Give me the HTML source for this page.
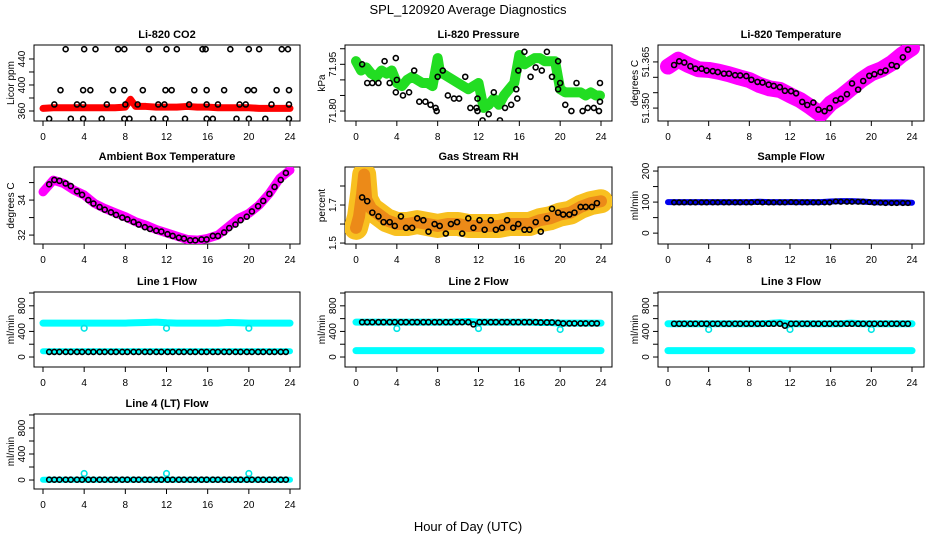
<!DOCTYPE html>
<html><head><meta charset="utf-8"><style>
html,body{margin:0;padding:0;background:#fff;}
svg{display:block;font-family:"Liberation Sans",sans-serif;}
</style></head><body>
<svg id="chart" width="936" height="540" viewBox="0 0 936 540" xmlns="http://www.w3.org/2000/svg">
<text x="468" y="14" text-anchor="middle" font-size="13">SPL_120920  Average Diagnostics</text>
<text x="468" y="531" text-anchor="middle" font-size="13">Hour of Day (UTC)</text>
</svg>
<script>
// ---- data ----
const hrs = [0.6,1.1,1.6,2.2,2.7,3.3,3.8,4.4,4.9,5.5,6.0,6.6,7.1,7.7,8.2,8.8,9.3,9.9,10.4,11.0,11.5,12.1,12.6,13.2,13.7,14.3,14.8,15.4,15.9,16.5,17.0,17.6,18.1,18.7,19.2,19.8,20.3,20.9,21.4,22.0,22.5,23.1,23.6];
const hourly = [0,1,2,3,4,5,6,7,8,9,10,11,12,13,14,15,16,17,18,19,20,21,22,23,24];

const co2RedHours = [0,1,2,3,4,5,6,7,8,8.5,9,10,11,12,13,14,15,16,17,18,19,20,21,22,23,24];
const co2RedVals = [364,365,365,365,365,365,365,365,366,378,367,367,366,366,366,367,366,366,365,365,365,365,364,364,364,364];
const co2BlackHours = [2.2,4,5.1,7.3,7.9,10.3,12,13,15.5,15.8,18.2,20,21,23.2,23.8, 1.7,3.9,4.6,6.8,7.9,9.7,11.9,12.5,14.7,15.9,17.6,19.9,20.5,22.7,23.9, 1.1,3.3,3.9,6.2,8,9.2,11.2,11.8,14.2,15.9,17,19.1,19.7,22.2,23.9, 0.6,2.7,3.9,5.7,7.9,8.4,10.7,11.9,13.8,15.9,16.5,18.8,20,21.6,23.9];
const co2BlackVals = [455,455,455,455,455,455,455,455,455,455,455,455,455,455,455, 392,392,392,392,392,392,392,392,392,392,392,392,392,392,392, 370,370,370,370,370,370,370,370,370,370,370,370,370,370,370, 348,348,348,348,348,348,348,348,348,348,348,348,348,348,348];

const presHours = [0,0.5,1,1.5,2,2.5,3,3.5,4,4.5,5,5.5,6,6.5,7,7.5,8,8.2,8.5,9,9.5,10,10.5,11,11.5,12,12.5,13,13.5,14,14.5,15,15.5,16,16.5,17,17.5,18,18.5,19,19.5,20,20.5,21,21.5,22,22.5,23,23.5,23.9];
const presVals = [71.96,71.93,71.94,71.92,71.91,71.93,71.92,71.93,71.89,71.88,71.90,71.91,71.90,71.89,71.89,71.88,71.97,71.93,71.92,71.91,71.90,71.89,71.88,71.87,71.88,71.89,71.81,71.82,71.84,71.82,71.85,71.87,71.89,71.98,71.95,71.96,71.97,71.97,71.96,71.96,71.96,71.87,71.86,71.86,71.86,71.86,71.85,71.86,71.85,71.85];
const presBlackHours = [0.6,1.1,1.6,2.2,2.8,3.3,3.9,3.9,4,4.6,5.2,5.7,6.2,6.8,7.3,7.8,7.9,8,8.5,9,9.6,10.1,10.7,11.2,11.8,11.9,11.9,12.4,13,13.5,14.1,14.6,15.2,15.7,15.8,15.9,16.5,17.1,17.6,18.2,18.7,19.2,19.8,19.8,20,20.5,21.1,21.6,22.2,22.7,23.3,23.8,23.9,23.9];
const presBlackVals = [71.95,71.89,71.89,71.89,71.96,71.89,71.97,71.86,71.90,71.85,71.86,71.93,71.83,71.83,71.82,71.81,71.80,71.91,71.93,71.85,71.84,71.84,71.91,71.81,71.81,71.84,71.80,71.77,71.79,71.86,71.77,71.81,71.82,71.87,71.84,71.93,71.99,71.91,71.94,71.93,71.99,71.91,71.87,71.96,71.89,71.82,71.80,71.89,71.80,71.81,71.81,71.80,71.83,71.89];

const tempVals = [51.3635,51.3657,51.3640,51.3626,51.3624,51.3618,51.3610,51.3600,51.3591,51.3575,51.3564,51.3559,51.3542,51.3526,51.3504,51.3480,51.3515,51.3537,51.3564,51.3591,51.3613,51.3626,51.3646,51.3673,51.3695];
const tempBlackVals = [51.3640,51.3652,51.3648,51.3636,51.3628,51.3628,51.3622,51.3620,51.3617,51.3612,51.3612,51.3607,51.3606,51.3604,51.3592,51.3585,51.3583,51.3576,51.3572,51.3568,51.3556,51.3555,51.3548,51.3520,51.3510,51.3518,51.3495,51.3490,51.3500,51.3525,51.3530,51.3545,51.3580,51.3560,51.3588,51.3605,51.3610,51.3617,51.3622,51.3640,51.3636,51.3665,51.3690];

const ambVals = [34.47,35.14,34.95,34.57,34.29,33.81,33.52,33.28,33.05,32.76,32.57,32.32,32.13,31.94,31.75,31.71,31.81,32.00,32.48,32.95,33.24,33.71,34.38,35.24,35.71];
const ambBlackVals = [34.9,35.15,35.1,34.95,34.8,34.5,34.3,34.0,33.8,33.6,33.45,33.3,33.15,33.0,32.9,32.75,32.6,32.45,32.35,32.25,32.2,32.05,31.95,31.85,31.8,31.7,31.7,31.75,31.75,31.95,31.95,32.15,32.4,32.6,32.85,33.05,33.35,33.65,33.95,34.35,34.75,35.15,35.55];

const rhHours = [0,0.3,0.6,0.8,1,1.5,2,3,4,5,6,7,8,9,10,11,12,13,14,15,16,17,18,19,20,21,22,23,24];
const rhVals = [1.58,1.64,1.76,1.86,1.73,1.68,1.66,1.62,1.60,1.60,1.61,1.60,1.59,1.60,1.60,1.59,1.59,1.59,1.59,1.60,1.60,1.60,1.62,1.63,1.65,1.66,1.69,1.71,1.72];
const rhBlackVals = [1.74,1.72,1.66,1.64,1.61,1.61,1.59,1.64,1.58,1.58,1.63,1.62,1.56,1.60,1.59,1.55,1.60,1.61,1.55,1.63,1.58,1.62,1.57,1.62,1.57,1.58,1.62,1.58,1.60,1.57,1.57,1.61,1.56,1.63,1.68,1.66,1.65,1.65,1.66,1.69,1.69,1.69,1.71];

const sampleVals = [100,100,100,100,100,100,100,100,100,101,100,100,100,100,100,100,102,103,103,102,100,99,99,99,98];
const sampleBlackVals = [99,99,99,99,99,99,99,99,99,99,99,99,99,99,99,100,99,99,99,99,99,100,99,99,99,99,99,99,99,102,101,101,101,101,101,100,98,98,97,97,97,97,97];

const l1CyanHi = [530,530,530,530,530,530,530,530,530,535,540,545,535,530,530,530,530,530,540,535,530,530,530,530,530];
const l1CyanLo = [90,90,90,90,90,90,90,90,90,90,90,90,90,90,90,90,90,90,90,90,90,90,90,90,90];
const l1Black = [80,80,80,80,80,80,80,80,80,80,80,80,80,80,80,80,80,80,80,80,80,80,80,80,80,80,80,80,80,80,80,80,80,80,80,80,80,80,80,80,80,80,80];
const l1OutHours = [4,12,20];
const l1OutVals = [450,450,450];

const l2CyanHi = [545,545,545,545,545,545,545,545,545,545,550,555,545,545,545,545,545,545,540,540,530,530,530,530,530];
const l2CyanLo = [100,100,100,100,100,100,100,100,100,100,100,100,100,100,100,100,100,100,100,100,100,100,100,100,100];
const l2Black = [545,545,545,545,545,545,545,545,545,545,545,545,545,545,545,545,545,545,545,545,510,545,545,545,545,545,545,545,545,545,545,545,540,540,540,535,525,525,525,525,525,525,525];
const l2OutHours = [4,12,20];
const l2OutVals = [445,445,430];

const l3CyanHi = [520,520,520,520,520,520,520,520,520,520,525,535,520,520,520,520,520,520,530,520,520,520,520,520,520];
const l3CyanLo = [100,100,100,100,100,100,100,100,100,100,100,100,100,100,100,100,100,100,100,100,100,100,100,100,100];
const l3Black = [520,520,520,520,520,520,520,520,520,520,520,520,520,520,520,520,520,520,520,520,490,520,520,520,520,520,520,520,520,520,520,520,520,520,520,520,520,520,520,520,520,520,520];
const l3OutHours = [4,12,20];
const l3OutVals = [430,430,430];

const l4Cyan = [5,5,5,5,5,5,5,5,5,5,5,5,5,5,5,5,5,5,5,5,5,5,5,5,5];
const l4Black = [5,5,5,5,5,5,5,5,5,5,5,5,5,5,5,5,5,5,5,5,5,5,5,5,5,5,5,5,5,5,5,5,5,5,5,5,5,5,5,5,5,5,5];
const l4OutHours = [4,12,20];
const l4OutVals = [100,100,100];

const xTicks = [0,4,8,12,16,20,24];

// ---- layout ----
const NS = "http://www.w3.org/2000/svg";
const svg = document.getElementById('chart');
const colL = [34,345,658], colR = [300,612,924], colX0 = [43,356,668], colX24 = [290,601,912];
const rowT = [45,167,292,414], rowB = [121,244,367,489];

function mk(tag, attrs, parent){
  const e = document.createElementNS(NS, tag);
  for (const k in attrs) e.setAttribute(k, attrs[k]);
  (parent||svg).appendChild(e);
  return e;
}

function panel(id, col, row, title, ytitle, yMin, yMax, yTicks, yLabels){
  const g = mk('g', {});
  
  
  const L = colL[col], R = colR[col], T = rowT[row], B = rowB[row];
  const xs = h => colX0[col] + (colX24[col]-colX0[col]) * h / 24;
  const ys = v => B - (v - yMin) / (yMax - yMin) * (B - T);
  const box = mk('rect', {x:L, y:T, width:R-L, height:B-T, fill:'none', stroke:'#000', 'stroke-width':1}, g);
  
  
  const t = mk('text', {x:(L+R)/2, y:T-7, 'text-anchor':'middle', 'font-size':11, 'font-weight':'bold'}, g);
  t.textContent = title;
  
  
  const yt = mk('text', {x:0, y:0, 'text-anchor':'middle', 'font-size':10, transform:`translate(${L-20},${(T+B)/2}) rotate(-90)`}, g);
  yt.textContent = ytitle;
  
  
  xTicks.forEach(h => {
    const x = xs(h);
    mk('line', {x1:x, x2:x, y1:B, y2:B+5, stroke:'#000'}, g);
    const lb = mk('text', {x:x, y:B+19, 'text-anchor':'middle', 'font-size':10}, g);
    lb.textContent = h;
    
    
  });
  yTicks.forEach(v => {
    const y = ys(v);
    mk('line', {x1:L-5, x2:L, y1:y, y2:y, stroke:'#000'}, g);
  });
  yLabels.forEach(v => {
    const y = ys(v);
    const lb = mk('text', {x:0, y:0, 'text-anchor':'middle', 'font-size':10, transform:`translate(${L-9},${y}) rotate(-90)`}, g);
    lb.textContent = typeof v === 'number' && id === 'li820-temp' ? v.toFixed(3) : (id==='li820-pressure' ? v.toFixed(2) : v);
    
    
  });
  const clip = mk('clipPath', {id:'clip-'+id}, g);
  mk('rect', {x:L, y:T, width:R-L, height:B-T}, clip);
  const dg = mk('g', {'clip-path':`url(#clip-${id})`}, g);
  return {
    band(hours, vals, color, w, name){
      const p = mk('polyline', {points: hours.map((h,i)=>xs(h)+','+ys(vals[i])).join(' '), fill:'none', stroke:color, 'stroke-width':w, 'stroke-linecap':'round', 'stroke-linejoin':'round'}, dg);
      
      
    },
    dots(hours, vals, color, r, name){
      hours.forEach((h,i) => {
        const c = mk('circle', {cx:xs(h), cy:ys(vals[i]), r:r, fill:'none', stroke:color, 'stroke-width':1.6}, dg);
        
        
      });
    }
  };
}

// CO2
let p = panel('li820-co2', 0, 0, 'Li-820 CO2', 'Licor ppm', 344.6, 461.5, [360,380,400,420,440], [360,400,440]);
p.band(co2RedHours, co2RedVals, '#f00', 7, 'co2-raw-series');
p.dots(co2BlackHours, co2BlackVals, '#000', 2.5, 'co2-average-point');

// Pressure
p = panel('li820-pressure', 1, 0, 'Li-820 Pressure', 'kPa', 71.768, 72.012, [71.80,71.85,71.90,71.95,72.00], [71.80,71.95]);
p.band(presHours, presVals, '#22dd22', 10, 'pressure-raw-series');
p.dots(presBlackHours, presBlackVals, '#000', 2.5, 'pressure-average-point');

// Temperature
p = panel('li820-temp', 2, 0, 'Li-820 Temperature', 'degrees C', 51.3458, 51.3705, [51.350,51.355,51.360,51.365], [51.350,51.365]);
p.band(hourly, tempVals, '#f0f', 16, 'li820-temp-raw-series');
p.dots(hrs, tempBlackVals, '#000', 2.5, 'li820-temp-average-point');

// Ambient
p = panel('ambient-temp', 0, 1, 'Ambient Box Temperature', 'degrees C', 31.49, 35.89, [32,33,34,35], [32,34]);
p.band(hourly, ambVals, '#f0f', 9, 'ambient-raw-series');
p.dots(hrs, ambBlackVals, '#000', 2.5, 'ambient-average-point');

// RH
p = panel('gas-rh', 1, 1, 'Gas Stream RH', 'percent', 1.495, 1.9, [1.5,1.6,1.7,1.8], ['1.5','1.7']);
p.band(rhHours, rhVals, '#f8c020', 24, 'rh-raw-series');
p.band(rhHours, rhVals, '#ec8a18', 12, 'rh-raw-series-core');
p.dots(hrs, rhBlackVals, '#000', 2.5, 'rh-average-point');

// Sample flow
p = panel('sample-flow', 2, 1, 'Sample Flow', 'ml/min', -35, 213, [0,50,100,150,200], [0,100,200]);
p.band(hourly, sampleVals, '#0000ee', 6, 'sample-flow-raw-series');
p.dots(hrs, sampleBlackVals, '#000', 2.3, 'sample-flow-average-point');

// Line flows
p = panel('line1-flow', 0, 2, 'Line 1 Flow', 'ml/min', -156, 1016, [0,200,400,600,800,1000], [0,400,800]);
p.band(hourly, l1CyanHi, '#00ffff', 7, 'line1-high-series');
p.band(hourly, l1CyanLo, '#00ffff', 6, 'line1-low-series');
p.dots(l1OutHours, l1OutVals, '#00e5e5', 2.8, 'line1-outlier');
p.dots(hrs, l1Black, '#000', 2.5, 'line1-average-point');

p = panel('line2-flow', 1, 2, 'Line 2 Flow', 'ml/min', -156, 1016, [0,200,400,600,800,1000], [0,400,800]);
p.band(hourly, l2CyanHi, '#00ffff', 7, 'line2-high-series');
p.band(hourly, l2CyanLo, '#00ffff', 7, 'line2-low-series');
p.dots(l2OutHours, l2OutVals, '#00e5e5', 2.8, 'line2-outlier');
p.dots(hrs, l2Black, '#000', 2.5, 'line2-average-point');

p = panel('line3-flow', 2, 2, 'Line 3 Flow', 'ml/min', -156, 1016, [0,200,400,600,800,1000], [0,400,800]);
p.band(hourly, l3CyanHi, '#00ffff', 7, 'line3-high-series');
p.band(hourly, l3CyanLo, '#00ffff', 7, 'line3-low-series');
p.dots(l3OutHours, l3OutVals, '#00e5e5', 2.8, 'line3-outlier');
p.dots(hrs, l3Black, '#000', 2.5, 'line3-average-point');

p = panel('line4-flow', 0, 3, 'Line 4 (LT) Flow', 'ml/min', -138, 1015, [0,200,400,600,800,1000], [0,400,800]);
p.band(hourly, l4Cyan, '#00ffff', 6, 'line4-series');
p.dots(l4OutHours, l4OutVals, '#00e5e5', 2.8, 'line4-outlier');
p.dots(hrs, l4Black, '#000', 2.5, 'line4-average-point');
</script>
</body></html>
